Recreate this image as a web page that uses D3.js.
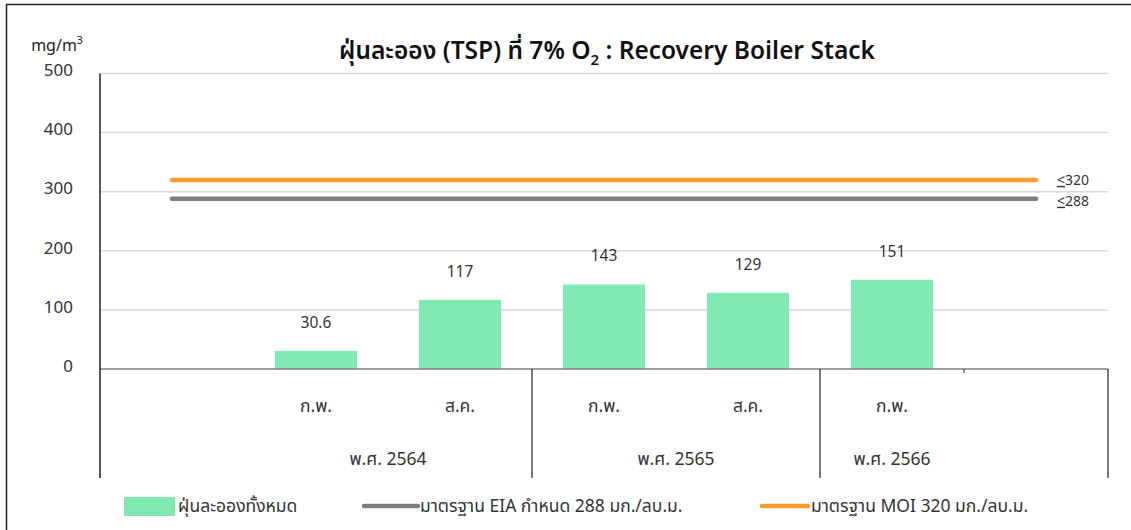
<!DOCTYPE html>
<html>
<head>
<meta charset="utf-8">
<script src="https://cdn.jsdelivr.net/npm/d3@7"></script>
<style>
  body { margin: 0; background: #fff; }
  svg { display: block; font-family: "Leelawadee UI", Tahoma, "Noto Sans Thai", "Noto Sans", sans-serif; }
</style>
</head>
<body>
<svg id="chart"></svg>
<script>
const years = ["พ.ศ. 2564", "พ.ศ. 2564", "พ.ศ. 2564", "พ.ศ. 2565", "พ.ศ. 2565", "พ.ศ. 2566", "พ.ศ. 2566"];
const months = ["", "ก.พ.", "ส.ค.", "ก.พ.", "ส.ค.", "ก.พ.", ""];
const tsp = [null, 30.6, 117, 143, 129, 151, null];
const eia = [288, 288, 288, 288, 288, 288, 288];
const moi = [320, 320, 320, 320, 320, 320, 320];
const yTicks = [0, 100, 200, 300, 400, 500];

const width = 1131, height = 530;
const svg = d3.select("#chart").attr("width", width).attr("height", height);

// outer frame (only top/left visible)
svg.append("path").attr("d", "M6.5,530 V4.5 H1131").attr("fill", "none").attr("stroke", "#222").attr("stroke-width", 1.5);

const idx = d3.range(months.length);
const x = d3.scaleBand().domain(idx).range([100, 1108]).paddingInner(0.43).paddingOuter(0.215);
const step = x.step();
const left = 100, right = 1108;
const y = d3.scaleLinear().domain([0, 500]).range([369, 73.5]);

// gridlines
svg.append("g").selectAll("line").data(yTicks.filter(d => d > 0)).join("line")
  .attr("x1", left).attr("x2", right)
  .attr("y1", d => y(d)).attr("y2", d => y(d))
  .attr("stroke", "#d9d9d9").attr("stroke-width", 1.5);

// y tick labels
svg.append("g").selectAll("text").data(yTicks).join("text")
  .attr("x", 73).attr("y", d => y(d) - 2)
  .attr("text-anchor", "end").attr("dominant-baseline", "middle")
  .attr("font-size", 17).attr("fill", "#333")
  .text(d => d);

// unit
const unit = svg.append("text").attr("x", 57).attr("y", 51).attr("text-anchor", "middle")
  .attr("font-size", 16).attr("fill", "#222");
unit.append("tspan").text("mg/m");
unit.append("tspan").attr("font-size", 10.5).attr("dy", -7).text("3");

// title
const title = svg.append("text").attr("x", 607).attr("y", 59).attr("text-anchor", "middle")
  .attr("font-size", 24.5).attr("font-weight", 600).attr("fill", "#111");
title.append("tspan").text("ฝุ่นละออง (TSP) ที่ 7% O");
title.append("tspan").attr("font-size", 15).attr("dy", 6).text("2");
title.append("tspan").attr("dy", -6).text(" : Recovery Boiler Stack");

// bars
const barData = idx.filter(i => tsp[i] != null);
svg.append("g").selectAll("rect").data(barData).join("rect")
  .attr("x", i => x(i)).attr("width", x.bandwidth())
  .attr("y", i => y(tsp[i])).attr("height", i => y(0) - y(tsp[i]))
  .attr("fill", "#80e9b1");

svg.append("g").selectAll("text").data(barData).join("text")
  .attr("x", i => x(i) + x.bandwidth() / 2).attr("y", i => y(tsp[i]) - 23)
  .attr("text-anchor", "middle").attr("font-size", 15.5).attr("fill", "#333")
  .text(i => tsp[i]);

// standard lines
const cx = i => x(i) + x.bandwidth() / 2;
const line = vals => d3.line().x(i => cx(i)).y(i => y(vals[i]))(idx);
svg.append("path").attr("d", line(eia)).attr("fill", "none").attr("stroke", "#7f7f7f")
  .attr("stroke-width", 4.5).attr("stroke-linecap", "round");
svg.append("path").attr("d", line(moi)).attr("fill", "none").attr("stroke", "#ff9a2e")
  .attr("stroke-width", 4.5).attr("stroke-linecap", "round");

[[moi, 5], [eia, 7]].forEach(([vals, dy]) => {
  const t = svg.append("text").attr("x", 1057).attr("y", y(vals[6]) + dy)
    .attr("font-size", 14).attr("fill", "#333");
  t.append("tspan").attr("text-decoration", "underline").text("<");
  t.append("tspan").text(vals[6]);
});

// axes
svg.append("line").attr("x1", left).attr("x2", right).attr("y1", y(0)).attr("y2", y(0))
  .attr("stroke", "#7f7f7f").attr("stroke-width", 1.5);
svg.append("line").attr("x1", left).attr("x2", left).attr("y1", y(500)).attr("y2", 478)
  .attr("stroke", "#222").attr("stroke-width", 1.5);

// category group separators
const groupNames = Array.from(new Set(years));
const groups = groupNames.map(g => {
  const members = idx.filter(i => years[i] === g);
  const labeled = members.filter(i => months[i] !== "");
  return {
    name: g,
    x0: x(members[0]) - (step - x.bandwidth()) / 2,
    x1: x(members[members.length - 1]) + x.bandwidth() + (step - x.bandwidth()) / 2,
    lx: d3.mean(labeled, cx)
  };
});
svg.append("g").selectAll("line").data(groups).join("line")
  .attr("x1", d => d.x1).attr("x2", d => d.x1).attr("y1", y(0)).attr("y2", 478)
  .attr("stroke", "#222").attr("stroke-width", 1.2);
// small tick inside last group
idx.slice(1).forEach(i => {
  const bx = x(i) - (step - x.bandwidth()) / 2;
  if (years[i] === years[i - 1] && i === idx.length - 1) {
    svg.append("line").attr("x1", bx).attr("x2", bx).attr("y1", y(0)).attr("y2", y(0) + 4)
      .attr("stroke", "#222").attr("stroke-width", 1);
  }
});

svg.append("g").selectAll("text").data(idx).join("text")
  .attr("x", i => cx(i)).attr("y", 412)
  .attr("text-anchor", "middle").attr("font-size", 17.5).attr("fill", "#333")
  .text(i => months[i]);

svg.append("g").selectAll("text").data(groups).join("text")
  .attr("x", d => d.lx).attr("y", 465)
  .attr("text-anchor", "middle").attr("font-size", 17.5).attr("fill", "#333")
  .text(d => d.name);

// legend
const lg = svg.append("g").attr("font-size", 17.5).attr("fill", "#333");
lg.append("rect").attr("x", 124).attr("y", 497).attr("width", 51).attr("height", 19).attr("fill", "#80e9b1");
lg.append("text").attr("x", 178).attr("y", 512).text("ฝุ่นละอองทั้งหมด");
lg.append("line").attr("x1", 364).attr("x2", 418).attr("y1", 506).attr("y2", 506)
  .attr("stroke", "#7f7f7f").attr("stroke-width", 4.5).attr("stroke-linecap", "round");
lg.append("text").attr("x", 420).attr("y", 512).text("มาตรฐาน EIA กำหนด 288 มก./ลบ.ม.");
lg.append("line").attr("x1", 762).attr("x2", 808).attr("y1", 506).attr("y2", 506)
  .attr("stroke", "#ff9a2e").attr("stroke-width", 4.5).attr("stroke-linecap", "round");
lg.append("text").attr("x", 811).attr("y", 512).text("มาตรฐาน MOI 320 มก./ลบ.ม.");
</script>
</body>
</html>
